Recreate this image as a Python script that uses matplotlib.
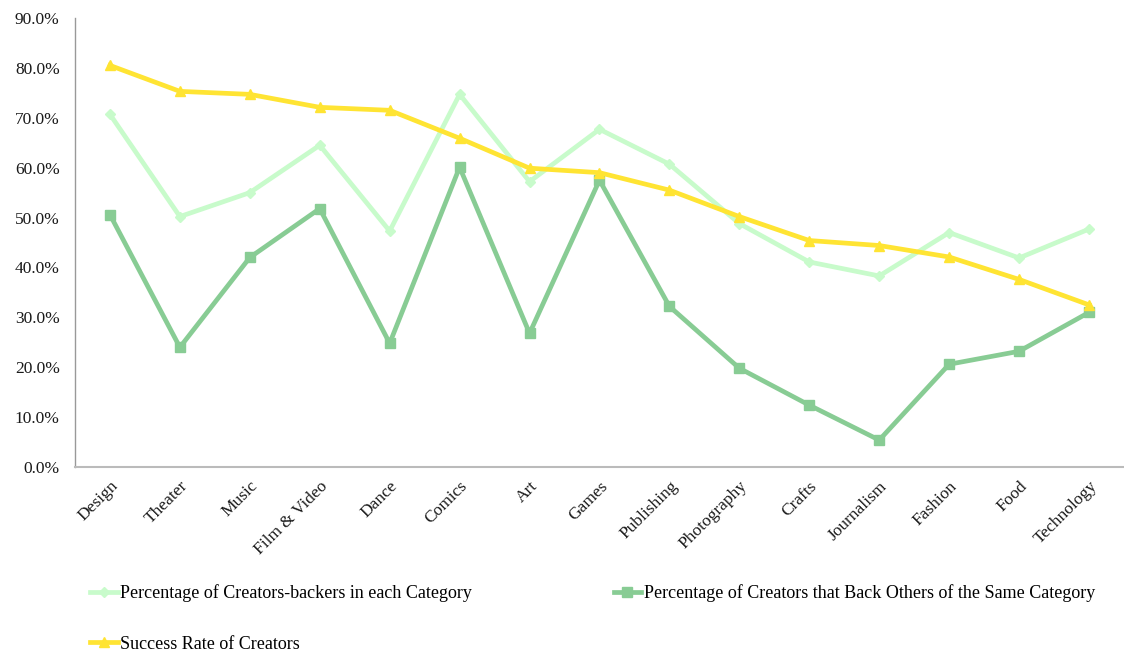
import matplotlib
matplotlib.use("Agg")
import matplotlib.pyplot as plt
from matplotlib.ticker import FuncFormatter, MultipleLocator

plt.rcParams['font.family'] = ['Liberation Serif', 'DejaVu Serif']

categories = ["Design", "Theater", "Music", "Film & Video", "Dance", "Comics", "Art",
              "Games", "Publishing", "Photography", "Crafts", "Journalism", "Fashion",
              "Food", "Technology"]

creators_backers = [70.7, 50.2, 55.0, 64.5, 47.3, 74.7, 57.2, 67.7, 60.7, 48.8,
                    41.1, 38.3, 47.0, 41.9, 47.7]
back_same_category = [50.6, 24.0, 42.0, 51.8, 24.8, 60.1, 26.8, 57.5, 32.2, 19.8,
                      12.4, 5.4, 20.6, 23.2, 31.0]
success_rate = [80.5, 75.3, 74.7, 72.1, 71.5, 65.9, 59.9, 59.0, 55.5, 50.2,
                45.4, 44.4, 42.1, 37.6, 32.5]

labels = ["Percentage of Creators-backers in each Category",
          "Percentage of Creators that Back Others of the Same Category",
          "Success Rate of Creators"]

fig = plt.figure(figsize=(11.24, 6.53), dpi=100)
ax = fig.add_axes([0.0667, 0.2848, 0.9333, 0.6876])

x = list(range(len(categories)))
l1, = ax.plot(x, creators_backers, color="#c8fbcb", lw=3.4, marker="D", ms=5.5,
              label=labels[0], zorder=2)
l2, = ax.plot(x, back_same_category, color="#88cc94", lw=3.4, marker="s", ms=7,
              label=labels[1], zorder=3)
l3, = ax.plot(x, success_rate, color="#ffe433", lw=3.4, marker="^", ms=7,
              label=labels[2], zorder=4)

ax.set_xlim(-0.5, len(categories) - 0.5)
ax.set_ylim(0, 90)
ax.yaxis.set_major_locator(MultipleLocator(10))
ax.yaxis.set_major_formatter(FuncFormatter(lambda v, p: f"{v:.1f}%"))

ax.set_xticks(x)
ax.set_xticklabels(categories, rotation=45, ha="right", rotation_mode="anchor",
                   fontsize=12.5, color="#1a1a1a")
ax.tick_params(axis="y", labelsize=12.5, labelcolor="#1a1a1a", length=0, pad=11)
ax.tick_params(axis="x", length=0, pad=8)

for side in ("top", "right"):
    ax.spines[side].set_visible(False)
ax.spines["left"].set_color("#999999")
ax.spines["bottom"].set_color("#bbbbbb")
ax.spines["left"].set_linewidth(1.0)
ax.spines["bottom"].set_linewidth(1.5)

fig.legend(handles=[l1, l3, l2], labels=[labels[0], labels[2], labels[1]],
           ncol=2, loc="upper left", bbox_to_anchor=(0.066, 0.130),
           frameon=False, fontsize=13, handlelength=1.5, handletextpad=0.15,
           columnspacing=7.85, labelspacing=1.85, markerscale=1.0)

fig.savefig("out.png", dpi=100, facecolor="white")
